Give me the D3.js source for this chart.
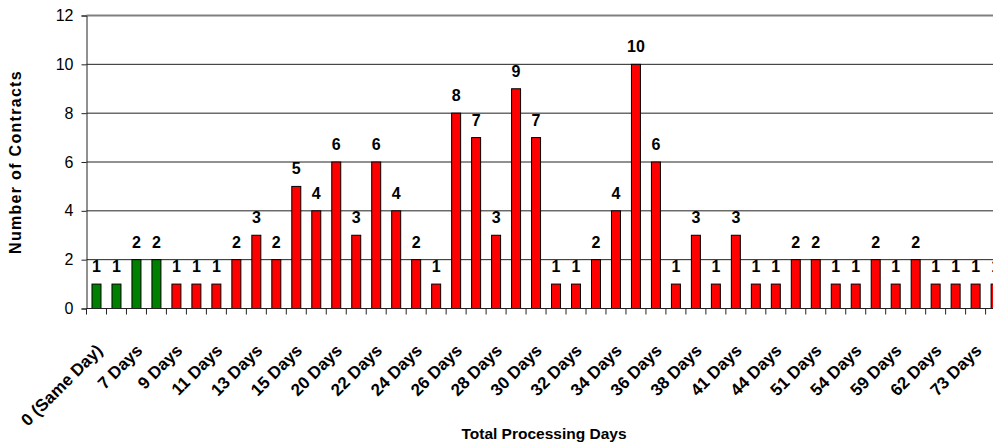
<!DOCTYPE html>
<html>
<head>
<meta charset="utf-8">
<script src="https://cdn.jsdelivr.net/npm/d3@7"></script>
<style>
  html, body { margin: 0; padding: 0; background: #fff; overflow: hidden; }
  svg { display: block; }
</style>
</head>
<body>
<div id="chart"></div>
<script>
// categories (only every other one is labelled on the axis)
const categories = [
  "0 (Same Day)", "5 Days", "7 Days", "8 Days", "9 Days", "10 Days",
  "11 Days", "12 Days", "13 Days", "14 Days", "15 Days", "19 Days",
  "20 Days", "21 Days", "22 Days", "23 Days", "24 Days", "25 Days",
  "26 Days", "27 Days", "28 Days", "29 Days", "30 Days", "31 Days",
  "32 Days", "33 Days", "34 Days", "35 Days", "36 Days", "37 Days",
  "38 Days", "40 Days", "41 Days", "42 Days", "44 Days", "48 Days",
  "51 Days", "52 Days", "54 Days", "57 Days", "59 Days", "60 Days",
  "62 Days", "64 Days", "73 Days", "80 Days"
];
const contracts = [
  1, 1, 2, 2, 1, 1,
  1, 2, 3, 2, 5, 4,
  6, 3, 6, 4, 2, 1,
  8, 7, 3, 9, 7, 1,
  1, 2, 4, 10, 6, 1,
  3, 1, 3, 1, 1, 2,
  2, 1, 1, 2, 1, 2,
  1, 1, 1, 1
];
// categories drawn in green
const onTime = ["0 (Same Day)", "5 Days", "7 Days", "8 Days"];
const yTicks = [0, 2, 4, 6, 8, 10, 12];

const data = categories.map((c, i) => ({ cat: c, val: contracts[i] }));

const totalW = 993, totalH = 443;
const FONT = "'Liberation Sans', Arial, sans-serif";

const svg = d3.select("#chart").append("svg")
  .attr("width", totalW).attr("height", totalH);

const x0 = 86.5, y0 = 308.5, yTop = 15.5, step = 19.98;

const x = d3.scaleBand().domain(categories)
  .range([x0, x0 + step * categories.length])
  .paddingInner(0.55).paddingOuter(0.275);
const y = d3.scaleLinear().domain([0, 12]).range([y0, yTop]);

// gridlines
svg.append("g").selectAll("line").data(yTicks.filter(d => d > 0 && d < 12)).join("line")
  .attr("x1", x0).attr("x2", totalW + 20)
  .attr("y1", d => y(d)).attr("y2", d => y(d))
  .attr("stroke", "#222").attr("stroke-width", 1);
// plot area top border
svg.append("line").attr("x1", x0).attr("x2", totalW + 20)
  .attr("y1", y(12)).attr("y2", y(12))
  .attr("stroke", "#808080").attr("stroke-width", 2);

// bars
svg.append("g").selectAll("rect").data(data).join("rect")
  .attr("x", d => x(d.cat)).attr("width", x.bandwidth())
  .attr("y", d => y(d.val)).attr("height", d => y(0) - y(d.val))
  .attr("fill", d => onTime.includes(d.cat) ? "#008000" : "#ff0000")
  .attr("stroke", "#000").attr("stroke-width", 1);

// value labels
svg.append("g").selectAll("text").data(data).join("text")
  .attr("x", d => x(d.cat) + x.bandwidth() / 2)
  .attr("y", d => y(d.val) - 12)
  .attr("text-anchor", "middle")
  .style("font-family", FONT).style("font-size", "16px").style("font-weight", "bold")
  .attr("fill", "#000")
  .text(d => d.val);

// y axis
const yAxis = svg.append("g").attr("transform", `translate(${x0},0)`)
  .call(d3.axisLeft(y).tickValues(yTicks).tickSize(5).tickPadding(8));
yAxis.select(".domain").attr("stroke", "#222");
yAxis.selectAll(".tick line").attr("stroke", "#222");
yAxis.selectAll("text").attr("fill", "#000")
  .style("font-family", FONT).style("font-size", "16px");

// x axis: line, ticks at band boundaries, rotated labels
const xAxis = svg.append("g").attr("transform", `translate(0,${y0})`);
xAxis.append("line").attr("x1", x0).attr("x2", totalW + 20)
  .attr("y1", 0).attr("y2", 0).attr("stroke", "#222");
const gap = x.step() * x.paddingInner() / 2;
xAxis.selectAll("line.tk").data(categories).join("line").attr("class", "tk")
  .attr("x1", d => x(d) - gap).attr("x2", d => x(d) - gap)
  .attr("y1", 0).attr("y2", 6).attr("stroke", "#222");
xAxis.selectAll("text.lbl").data(categories.filter((d, i) => i % 2 === 0)).join("text")
  .attr("class", "lbl")
  .attr("transform", d => `translate(${x(d) + x.bandwidth() / 2 + 7},43) rotate(-45)`)
  .attr("text-anchor", "end")
  .style("font-family", FONT).style("font-size", "17px").style("font-weight", "bold")
  .attr("fill", "#000")
  .text(d => d);

// axis titles
svg.append("text").attr("x", 544).attr("y", 439)
  .attr("text-anchor", "middle")
  .style("font-family", FONT).style("font-size", "15.5px").style("font-weight", "bold")
  .text("Total Processing Days");
svg.append("text")
  .attr("transform", `translate(21,${(y0 + yTop) / 2}) rotate(-90)`)
  .attr("text-anchor", "middle")
  .style("font-family", FONT).style("font-size", "16px").style("font-weight", "bold")
  .style("letter-spacing", "1.3px")
  .text("Number of Contracts");
</script>
</body>
</html>
